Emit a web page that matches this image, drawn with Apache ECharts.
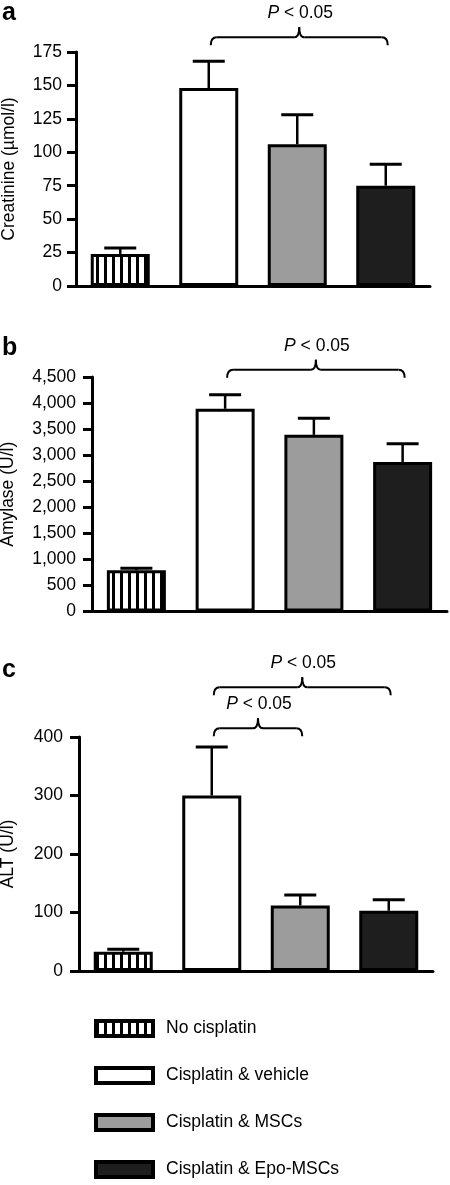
<!DOCTYPE html>
<html><head><meta charset="utf-8">
<script src="https://cdn.jsdelivr.net/npm/echarts@6/dist/echarts.min.js"></script>
<style>html,body{margin:0;padding:0;background:#fff}#chart{width:450px;height:1185px}</style>
</head><body><div id="chart"></div>
<script>
// ---- data ----
const groups = ['No cisplatin', 'Cisplatin & vehicle', 'Cisplatin & MSCs', 'Cisplatin & Epo-MSCs'];
const creatinine = [24, 148, 106, 75];
const creatinineSem = [4.5, 20, 22, 16];
const amylase = [790, 3890, 3390, 2870];
const amylaseSem = [40, 270, 320, 350];
const alt = [33, 300, 112, 103];
const altSem = [4, 83, 18, 19];
const creatinineAxis = { min: 0, max: 175, interval: 25 };
const amylaseAxis = { min: 0, max: 4500, interval: 500 };
const altAxis = { min: 0, max: 400, interval: 100 };
const panelLetters = ['a', 'b', 'c'];
const axisNames = ['Creatinine (\u00b5mol/l)', 'Amylase (U/l)', 'ALT (U/l)'];
// brackets: [fromCategory, toCategory, yValue]
const bracketsA = [[1, 3, 186]];
const bracketsB = [[1, 3, 4640]];
const bracketsC = [[1, 3, 485], [1, 2, 415]];
const pLabel = '< 0.05';

// ---- styles ----
const FONT = 'Liberation Sans, Arial, Helvetica, sans-serif';
const FS = 17.5;
const pc = document.createElement('canvas');
pc.width = 8; pc.height = 8;
const ctx = pc.getContext('2d');
ctx.fillStyle = '#fff'; ctx.fillRect(0, 0, 8, 8);
ctx.fillStyle = '#000'; ctx.fillRect(0, 0, 3, 8);
const fills = [{ image: pc, repeat: 'repeat' }, '#ffffff', '#9c9c9c', '#1e1e1e'];

function errRender(params, api) {
  const x = api.value(0), m = api.value(1), e = api.value(2);
  const p0 = api.coord([x, m]);
  const p1 = api.coord([x, m + e]);
  return {
    type: 'group', children: [
      { type: 'line', shape: { x1: p0[0], y1: p0[1], x2: p1[0], y2: p1[1] }, style: { stroke: '#000', lineWidth: 2.5 } },
      { type: 'line', shape: { x1: p1[0] - 16, y1: p1[1], x2: p1[0] + 16, y2: p1[1] }, style: { stroke: '#000', lineWidth: 3 } }
    ]
  };
}
function bracketRender(params, api) {
  const a = api.coord([api.value(0), api.value(2)]);
  const b = api.coord([api.value(1), api.value(2)]);
  const y = a[1], x1 = a[0] + 2, x2 = b[0] + 2, xm = (x1 + x2) / 2;
  const st = { stroke: '#000', lineWidth: 2, fill: null };
  return {
    type: 'group', children: [
      { type: 'bezierCurve', shape: { x1: x1, y1: y + 8, x2: x1 + 6, y2: y, cpx1: x1, cpy1: y }, style: st },
      { type: 'line', shape: { x1: x1 + 6, y1: y, x2: xm - 5, y2: y }, style: st },
      { type: 'bezierCurve', shape: { x1: xm - 5, y1: y, x2: xm, y2: y - 10, cpx1: xm, cpy1: y }, style: st },
      { type: 'bezierCurve', shape: { x1: xm + 5, y1: y, x2: xm, y2: y - 10, cpx1: xm, cpy1: y }, style: st },
      { type: 'line', shape: { x1: xm + 5, y1: y, x2: x2 - 6, y2: y }, style: st },
      { type: 'bezierCurve', shape: { x1: x2 - 6, y1: y, x2: x2, y2: y + 8, cpx1: x2, cpy1: y }, style: st },
      { type: 'text', x: xm + 1, y: y - 24, style: {
          text: '{i|P} ' + pLabel, fill: '#000', fontSize: FS, fontFamily: FONT,
          align: 'center', verticalAlign: 'middle',
          rich: { i: { fontStyle: 'italic', fontSize: FS, fontFamily: FONT, fill: '#000' } }
      } }
    ]
  };
}

function panelSeries(idx, values, sem, brackets) {
  const s = groups.map((g, i) => ({
    type: 'bar', name: g, xAxisIndex: idx, yAxisIndex: idx,
    barWidth: 59, barGap: '-100%',
    data: values.map((v, j) => (j === i ? v : '-')),
    itemStyle: { color: fills[i], borderColor: '#000', borderWidth: 3 },
    z: 2, silent: true
  }));
  s.push({ type: 'custom', xAxisIndex: idx, yAxisIndex: idx, clip: false, z: 3, silent: true,
    encode: { x: 0, y: 1 }, data: values.map((v, j) => [j, v, sem[j]]), renderItem: errRender });
  s.push({ type: 'custom', xAxisIndex: idx, yAxisIndex: idx, clip: false, z: 3, silent: true,
    encode: { x: 0, y: 2 }, data: brackets, renderItem: bracketRender });
  return s;
}

const grids = [
  { left: 76, right: 20, top: 52, height: 234 },
  { left: 92, right: 3, top: 377, height: 234.5 },
  { left: 79, right: 17, top: 737, height: 234 }
];
const axisCfg = [creatinineAxis, amylaseAxis, altAxis];
const nameGaps = [58, 75, 62];
const labelMargins = [14, 16, 16];

const option = {
  animation: false,
  backgroundColor: '#fff',
  textStyle: { fontFamily: FONT, color: '#000' },
  title: panelLetters.map((t, i) => ({
    text: t, left: 2, top: [1, 336, 658][i], padding: 0,
    textStyle: { fontSize: 25, fontWeight: 'bold', color: '#000', fontFamily: FONT }
  })),
  grid: grids.map(g => Object.assign({ containLabel: false, outerBoundsMode: 'none' }, g)),
  xAxis: grids.map((g, i) => ({
    type: 'category', gridIndex: i, data: groups,
    axisLine: { show: true, lineStyle: { color: '#000', width: 3 } },
    axisTick: { show: false }, axisLabel: { show: false }, splitLine: { show: false }
  })),
  yAxis: grids.map((g, i) => ({
    type: 'value', gridIndex: i,
    min: axisCfg[i].min, max: axisCfg[i].max, interval: axisCfg[i].interval,
    name: axisNames[i], nameLocation: 'middle', nameRotate: 90, nameGap: nameGaps[i],
    nameTextStyle: { fontSize: FS, color: '#000', fontFamily: FONT },
    axisLine: { show: true, lineStyle: { color: '#000', width: 3 } },
    axisTick: { show: true, length: 9, inside: false, lineStyle: { color: '#000', width: 3 } },
    axisLabel: { show: true, margin: labelMargins[i], fontSize: FS, color: '#000', fontFamily: FONT,
      formatter: v => v.toLocaleString('en-US') },
    splitLine: { show: false }
  })),
  legend: {
    data: groups, orient: 'vertical', left: 94, top: 1019, padding: 0,
    itemWidth: 57, itemHeight: 15, itemGap: 28, icon: 'rect',
    itemStyle: { borderColor: '#000', borderWidth: 4 },
    textStyle: { fontSize: FS, lineHeight: 19, color: '#000', fontFamily: FONT, padding: [0, 0, 0, 8] },
    selectedMode: false
  },
  series: [].concat(
    panelSeries(0, creatinine, creatinineSem, bracketsA),
    panelSeries(1, amylase, amylaseSem, bracketsB),
    panelSeries(2, alt, altSem, bracketsC)
  )
};
const chart = echarts.init(document.getElementById('chart'), null, { renderer: 'canvas' });
chart.setOption(option);
</script></body></html>
